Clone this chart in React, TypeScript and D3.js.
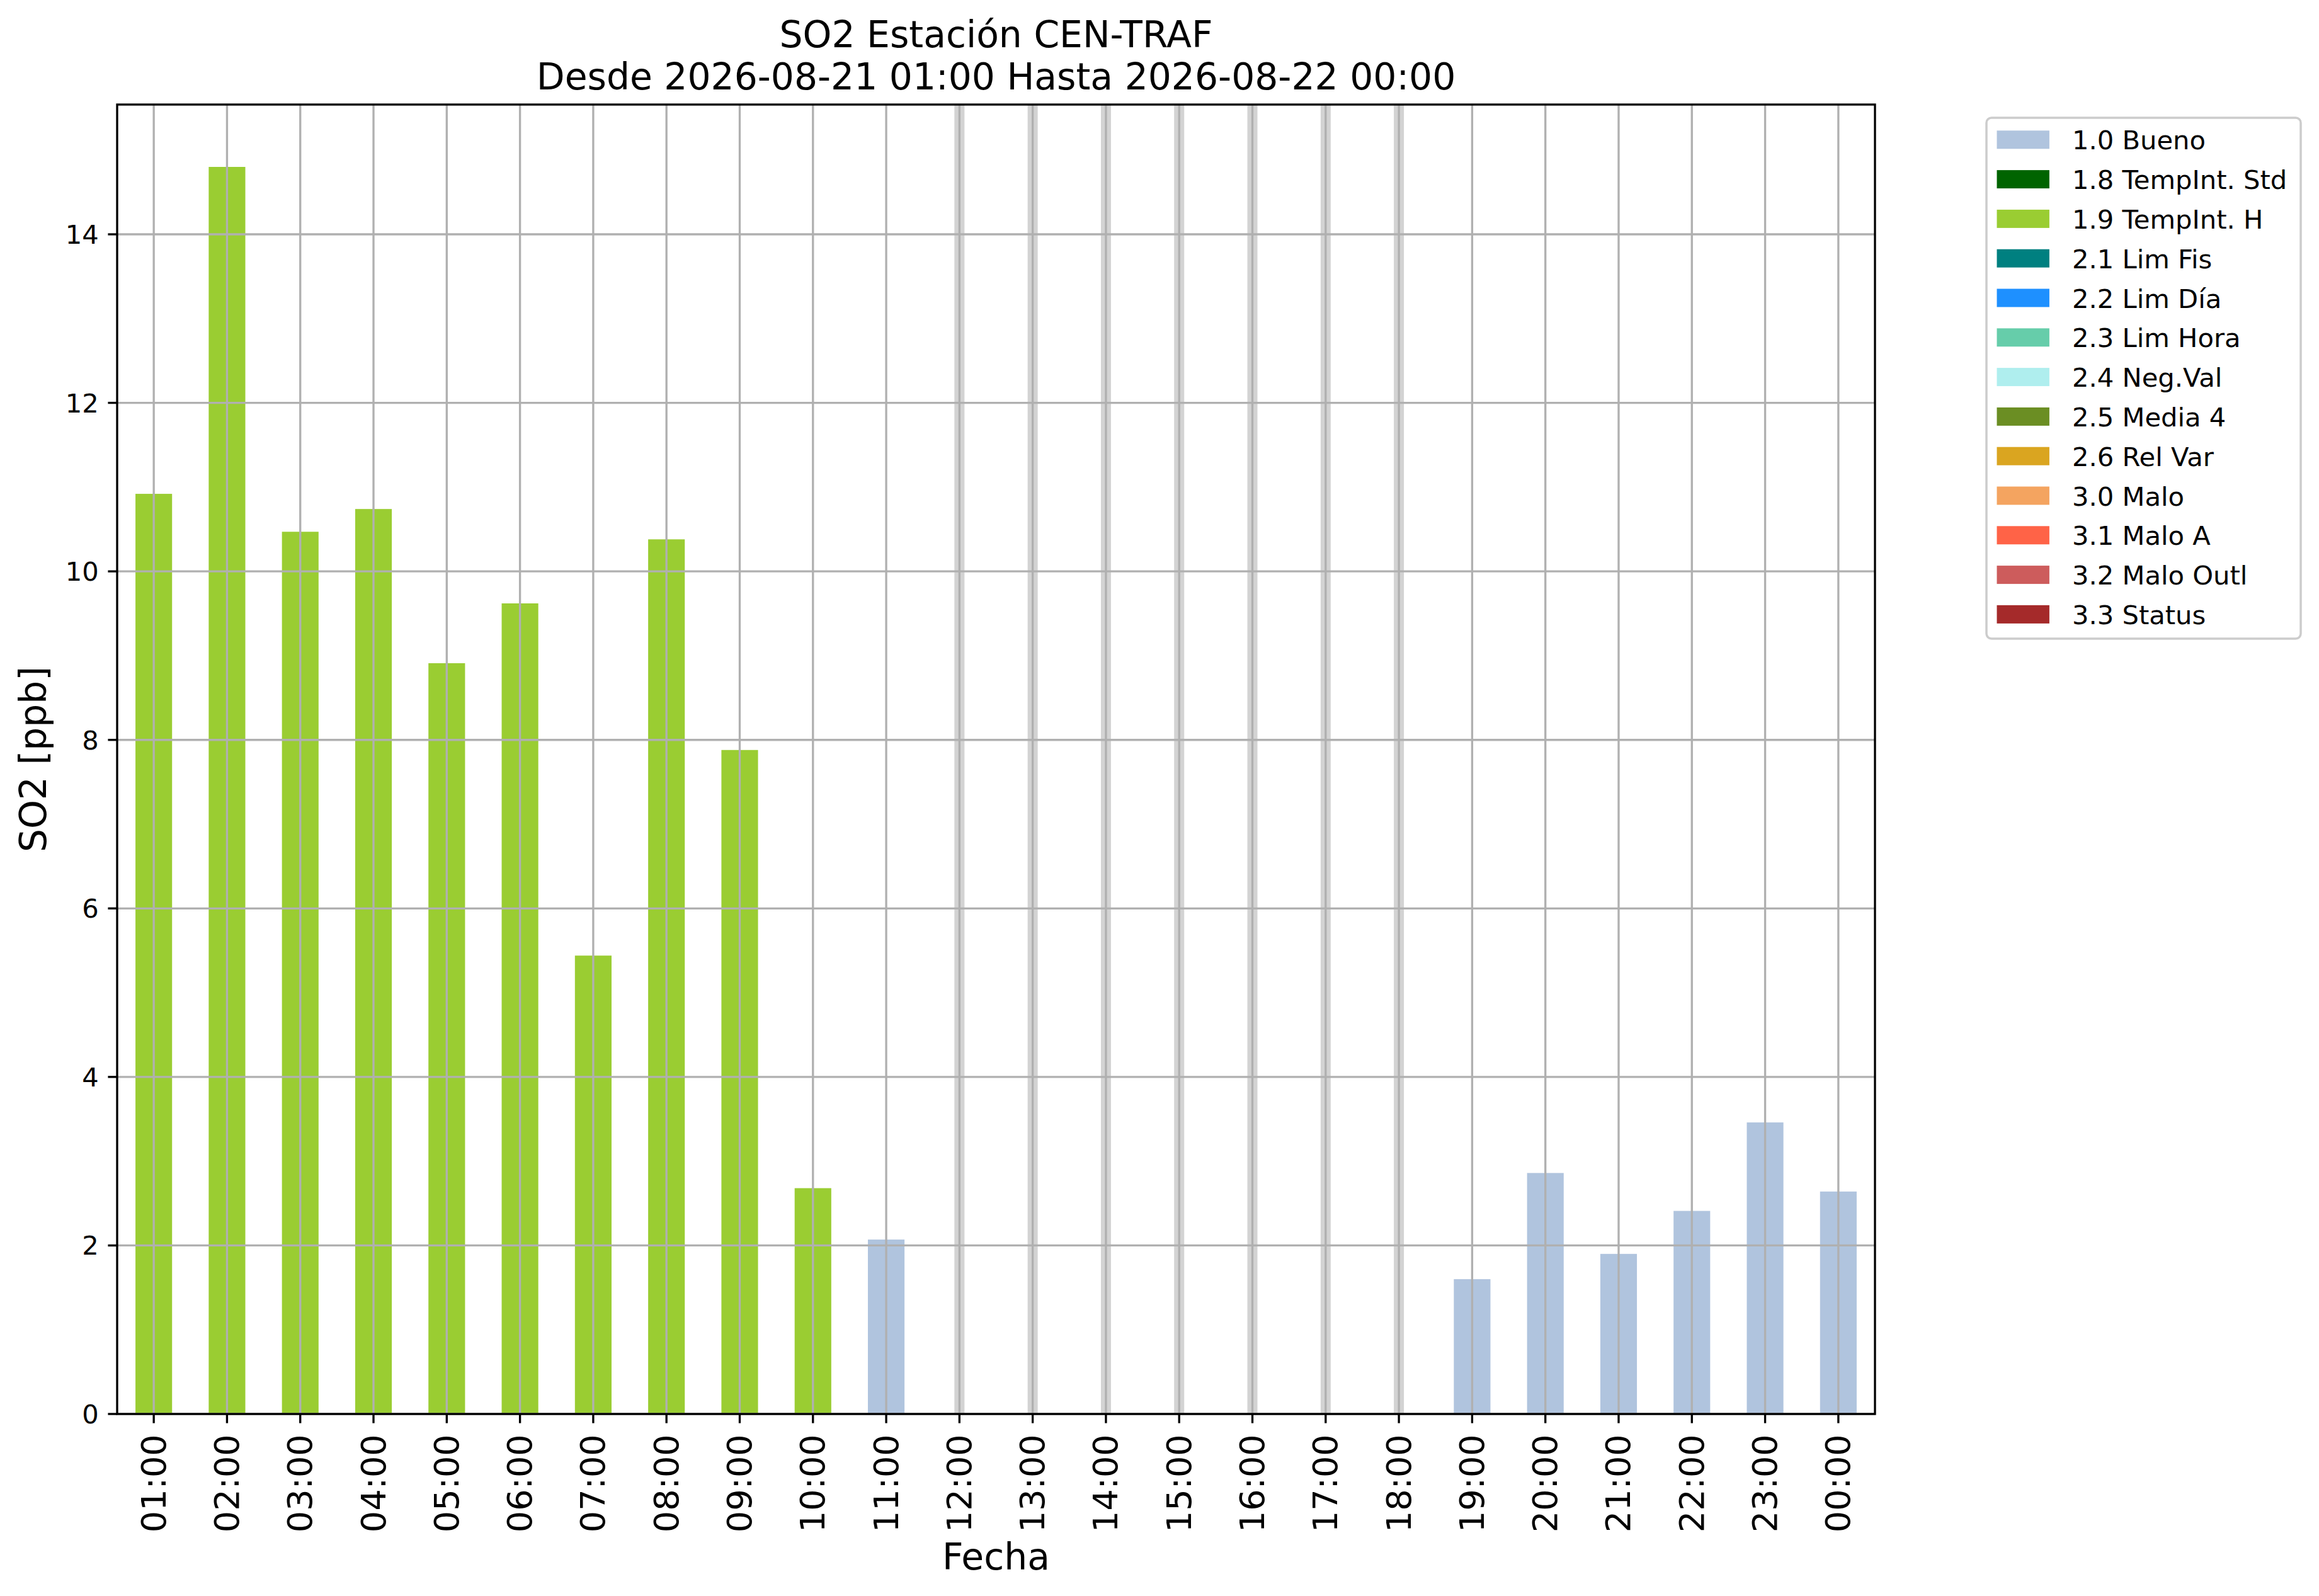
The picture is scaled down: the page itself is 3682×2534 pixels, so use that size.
import React from "react";
import * as d3 from "d3";

const hours = [
  "01:00", "02:00", "03:00", "04:00", "05:00", "06:00", "07:00", "08:00",
  "09:00", "10:00", "11:00", "12:00", "13:00", "14:00", "15:00", "16:00",
  "17:00", "18:00", "19:00", "20:00", "21:00", "22:00", "23:00", "00:00",
];

const values: (number | null)[] = [
  10.92, 14.8, 10.47, 10.74, 8.91, 9.62, 5.44, 10.38, 7.88, 2.68, 2.07,
  null, null, null, null, null, null, null,
  1.6, 2.86, 1.9, 2.41, 3.46, 2.64,
];

const flags: (string | null)[] = [
  "1.9", "1.9", "1.9", "1.9", "1.9", "1.9", "1.9", "1.9", "1.9", "1.9", "1.0",
  null, null, null, null, null, null, null,
  "1.0", "1.0", "1.0", "1.0", "1.0", "1.0",
];

const legendCodes = ["1.0", "1.8", "1.9", "2.1", "2.2", "2.3", "2.4", "2.5", "2.6", "3.0", "3.1", "3.2", "3.3"];
const legendLabels = [
  "1.0 Bueno", "1.8 TempInt. Std", "1.9 TempInt. H", "2.1 Lim Fis", "2.2 Lim Día",
  "2.3 Lim Hora", "2.4 Neg.Val", "2.5 Media 4", "2.6 Rel Var", "3.0 Malo",
  "3.1 Malo A", "3.2 Malo Outl", "3.3 Status",
];
const legendColors = [
  "#b0c4de", "#006400", "#9acd32", "#008080", "#1e90ff", "#66cdaa", "#afeeee",
  "#6b8e23", "#daa520", "#f4a460", "#ff6347", "#cd5c5c", "#a52a2a",
];

const yTicks = [0, 2, 4, 6, 8, 10, 12, 14];

const titleLines = ["SO2 Estación CEN-TRAF", "Desde 2026-08-21 01:00 Hasta 2026-08-22 00:00"];

const W = 3682;
const H = 2534;
const L = 186;
const R = 2977;
const T = 166;
const B = 2245;
const FONT = "'DejaVu Sans', sans-serif";
const PT = 300 / 72;

export default function App() {
  const x = d3.scaleLinear().domain([-0.5, hours.length - 0.5]).range([L, R]);
  const yMax = (d3.max(values.filter((v) => v != null) as number[]) ?? 1) * 1.05;
  const y = d3.scaleLinear().domain([0, yMax]).range([B, T]);
  const colorOf = d3.scaleOrdinal<string, string>().domain(legendCodes).range(legendColors);

  const tickLen = 3.5 * PT;
  const pad = 3.5 * PT;
  const lw = 0.8 * PT;
  const fs10 = 10 * PT;
  const fsX = 13 * PT;
  const fs14 = 14 * PT;

  const legX = 3154;
  const legY = 187;
  const legW = 499;
  const legH = 827;
  const rowH = 62.8;
  const firstRow = 221.8;

  return (
    <svg
      width={W}
      height={H}
      viewBox={`0 0 ${W} ${H}`}
      style={{ position: "absolute", left: 0, top: 0, background: "#fff" }}
      fontFamily={FONT}
    >
      <rect x={0} y={0} width={W} height={H} fill="#fff" />
      {/* missing-data bands */}
      {values.map((v, i) =>
        v == null ? (
          <rect key={"m" + i} x={x(i) - 8} y={T} width={16} height={B - T} fill="#d3d3d3" />
        ) : null
      )}
      {/* bars */}
      {values.map((v, i) =>
        v != null && flags[i] ? (
          <rect
            key={"b" + i}
            x={x(i - 0.25)}
            y={y(v)}
            width={x(i + 0.25) - x(i - 0.25)}
            height={y(0) - y(v)}
            fill={colorOf(flags[i] as string)}
          />
        ) : null
      )}
      {/* grid */}
      {hours.map((h, i) => (
        <line key={"gx" + i} x1={x(i)} x2={x(i)} y1={T} y2={B} stroke="#b0b0b0" strokeWidth={lw} />
      ))}
      {yTicks.map((t) => (
        <line key={"gy" + t} x1={L} x2={R} y1={y(t)} y2={y(t)} stroke="#b0b0b0" strokeWidth={lw} />
      ))}
      {/* spines */}
      <rect x={L} y={T} width={R - L} height={B - T} fill="none" stroke="#000" strokeWidth={lw} />
      {/* y ticks */}
      {yTicks.map((t) => (
        <g key={"yt" + t}>
          <line x1={L - tickLen} x2={L} y1={y(t)} y2={y(t)} stroke="#000" strokeWidth={lw} />
          <text x={L - tickLen - pad} y={y(t)} dy="0.36em" textAnchor="end" fontSize={fs10} fill="#000">
            {t}
          </text>
        </g>
      ))}
      {/* x ticks */}
      {hours.map((h, i) => (
        <g key={"xt" + i}>
          <line x1={x(i)} x2={x(i)} y1={B} y2={B + tickLen} stroke="#000" strokeWidth={lw} />
          <text
            transform={`translate(${x(i) - 1},${B + tickLen + pad + 3}) rotate(-90)`}
            dy="0.36em"
            textAnchor="end"
            fontSize={fsX}
            fill="#000"
          >
            {h}
          </text>
        </g>
      ))}
      {/* axis labels */}
      <text x={(L + R) / 2} y={2492} textAnchor="middle" fontSize={fs14} fill="#000">
        Fecha
      </text>
      <text
        transform={`translate(73,${(T + B) / 2}) rotate(-90)`}
        textAnchor="middle"
        fontSize={fs14}
        fill="#000"
      >
        SO2 [ppb]
      </text>
      {/* title */}
      {titleLines.map((t, i) => (
        <text key={"t" + i} x={(L + R) / 2} y={75 + i * 67} textAnchor="middle" fontSize={fs14} fill="#000">
          {t}
        </text>
      ))}
      {/* legend */}
      <rect
        x={legX}
        y={legY}
        width={legW}
        height={legH}
        rx={8}
        ry={8}
        fill="#fff"
        fillOpacity={0.8}
        stroke="#cccccc"
        strokeWidth={3.5}
      />
      {legendLabels.map((lab, i) => {
        const cy = firstRow + i * rowH;
        return (
          <g key={"l" + i}>
            <rect x={3170.5} y={cy - 14.5} width={83.4} height={29} fill={legendColors[i]} />
            <text x={3290} y={cy + 15.5} fontSize={fs10} fill="#000">
              {lab}
            </text>
          </g>
        );
      })}
    </svg>
  );
}
